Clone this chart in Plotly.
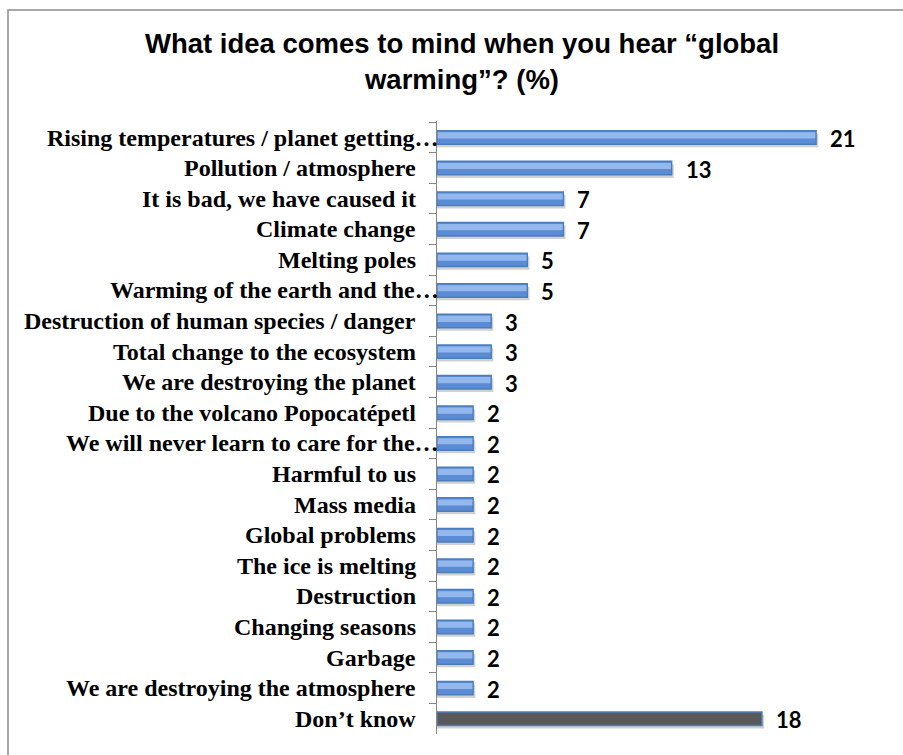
import plotly.graph_objects as go

# Survey answers, top to bottom, and their shares (%)
categories = [
    "Rising temperatures / planet getting…",
    "Pollution / atmosphere",
    "It is bad, we have caused it",
    "Climate change",
    "Melting poles",
    "Warming of the earth and the…",
    "Destruction of human species / danger",
    "Total change to the ecosystem",
    "We are destroying the planet",
    "Due to the volcano Popocatépetl",
    "We will never learn to care for the…",
    "Harmful to us",
    "Mass media",
    "Global problems",
    "The ice is melting",
    "Destruction",
    "Changing seasons",
    "Garbage",
    "We are destroying the atmosphere",
    "Don’t know",
]
values = [21, 13, 7, 7, 5, 5, 3, 3, 3, 2, 2, 2, 2, 2, 2, 2, 2, 2, 2, 18]

W, H = 903, 755
L, R, T, B = 437, 14, 121, 21
plot_w = W - L - R
plot_h = H - T - B

blue_edge = "#4a7ebb"
fills = ["#5b8bd4" if c != "Don’t know" else "#595959" for c in categories]
highlights = ["#93b8ee" if c != "Don’t know" else "#595959" for c in categories]
shadows = "rgba(150,150,150,0.45)"

bar_w = 0.44

fig = go.Figure()

# soft drop shadow under each bar
fig.add_trace(go.Bar(
    y=categories, x=[v + 0.12 for v in values], orientation="h",
    width=bar_w, offset=-bar_w / 2 + 0.1,
    marker=dict(color=shadows, line=dict(width=0)),
    hoverinfo="skip", showlegend=False,
))
# main bar body with outline
fig.add_trace(go.Bar(
    y=categories, x=values, orientation="h",
    width=bar_w, offset=-bar_w / 2,
    marker=dict(color=fills, line=dict(color=blue_edge, width=1.5)),
    showlegend=False,
))
# lighter upper band for the glossy look
fig.add_trace(go.Bar(
    y=categories, x=[v - 0.08 for v in values], base=0.04, orientation="h",
    width=0.2, offset=-bar_w / 2 + 0.05,
    marker=dict(color=highlights, line=dict(width=0)),
    hoverinfo="skip", showlegend=False,
))

# value labels to the right of each bar
for c, v in zip(categories, values):
    fig.add_annotation(
        x=v, y=c, text=str(v), showarrow=False,
        xanchor="left", yanchor="middle", xshift=12, yshift=-1,
        font=dict(family="Lato", size=22, color="#000000", weight="bold"),
    )

# category labels; truncated ones run right up to the axis line
for c in categories:
    fig.add_annotation(
        x=0, y=c, text=c, showarrow=False,
        xanchor="right", yanchor="middle",
        xshift=4 if c.endswith("…") else -19, yshift=0,
        font=dict(family="Liberation Serif", size=24, color="#000000", weight="bold"),
    )

# outer chart frame
fig.add_shape(
    type="rect", xref="paper", yref="paper",
    x0=(8 - L) / plot_w, x1=(W + 5 - L) / plot_w,
    y0=(H - B - (H + 5)) / plot_h, y1=(H - B - 10) / plot_h,
    line=dict(color="#8c8c8c", width=1.5), fillcolor="rgba(0,0,0,0)", layer="below",
)

fig.update_layout(
    width=W, height=H,
    margin=dict(l=L, r=R, t=T, b=B),
    paper_bgcolor="white", plot_bgcolor="white",
    barmode="overlay",
    title=dict(
        text="What idea comes to mind when you hear “global<br>warming”? (%)",
        x=462 / W, xanchor="center", xref="container",
        y=1 - 53 / H, yanchor="middle", yref="container",
        font=dict(family="Liberation Sans", size=27.5, color="#000000", weight="bold"),
    ),
    xaxis=dict(range=[0, plot_w / 18.05], visible=False, fixedrange=True),
    yaxis=dict(
        type="category", autorange="reversed",
        showline=True, linecolor="#868686", linewidth=1.2,
        ticks="outside", ticklen=7, tickcolor="#868686", tickwidth=1.2,
        tickson="boundaries", showticklabels=False,
        showgrid=False, zeroline=False,
    ),
)

fig.write_html("out.html")
